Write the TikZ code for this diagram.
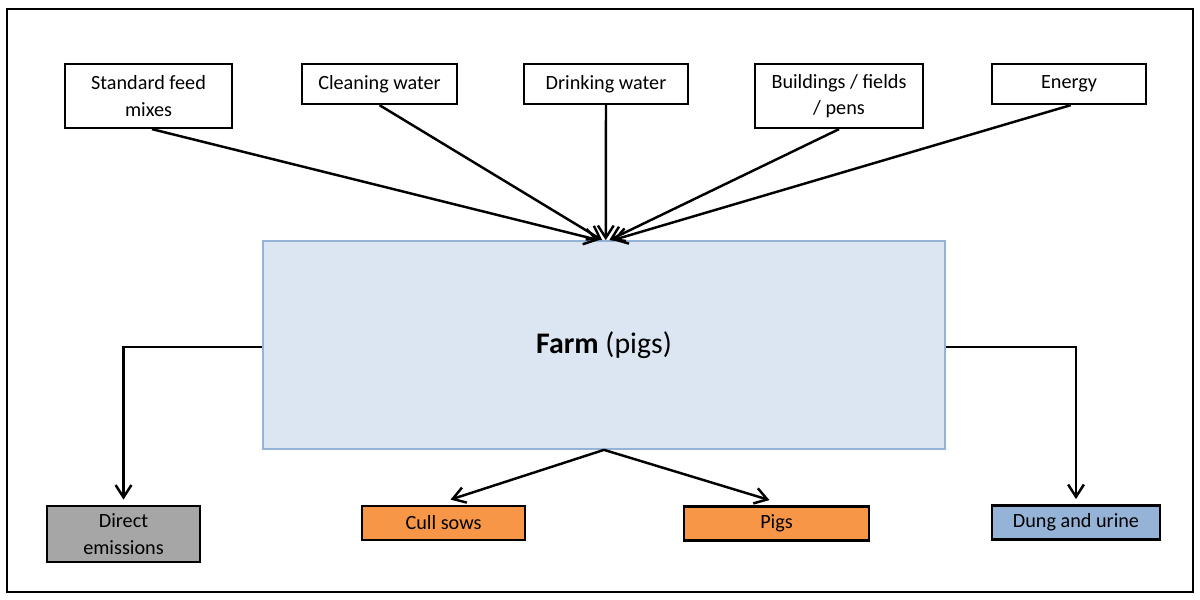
\documentclass[tikz,border=0pt]{standalone}
\usepackage{fontspec}
\setmainfont{Carlito}
\usetikzlibrary{arrows.meta}

\definecolor{farmfill}{HTML}{DCE6F2}
\definecolor{farmline}{HTML}{95B3D7}
\definecolor{outgray}{HTML}{A6A6A6}
\definecolor{outorange}{HTML}{F79646}
\definecolor{outblue}{HTML}{95B3D7}

\begin{document}
\begin{tikzpicture}[x=0.02cm,y=-0.02cm,
    inbox/.style={draw,line width=1.3pt,align=center,inner sep=2pt,font=\fontsize{11.5}{15}\selectfont},
    outbox/.style={inbox,minimum height=0.68cm},
    flow/.style={line width=1.4pt,-{Straight Barb[length=7pt,width=9pt]}}]
    \useasboundingbox (0,0) rectangle (1200,599);
    \draw[line width=1.5pt] (7,9) rectangle (1193,592);
    % inputs
    \node[inbox,minimum width=3.34cm,minimum height=1.28cm] (feed) at (148.5,96) {Standard feed\\mixes};
    \node[inbox,minimum width=3.1cm,minimum height=0.8cm] (clean) at (379.5,84) {Cleaning water};
    \node[inbox,minimum width=3.28cm,minimum height=0.8cm] (drink) at (606,84) {Drinking water};
    \node[inbox,minimum width=3.36cm,minimum height=1.28cm] (build) at (839,96) {Buildings / fields\\/ pens};
    \node[inbox,minimum width=3.08cm,minimum height=0.8cm] (energy) at (1069,84) {Energy};
    % farm
    \node[draw=farmline,fill=farmfill,line width=1pt,minimum width=13.64cm,minimum height=4.16cm,
        font=\fontsize{17}{20}\selectfont] (farm) at (604,345) {\textbf{Farm} (pigs)};
    % outputs
    \node[inbox,fill=outgray,minimum width=3.06cm,minimum height=1.12cm] (direct) at (123.5,534) {Direct\\emissions};
    \node[outbox,fill=outorange,minimum width=3.26cm] (cull) at (443.5,523) {Cull sows};
    \node[outbox,fill=outorange,minimum width=3.7cm] (pigs) at (776.5,523.5) {Pigs};
    \node[outbox,fill=outblue,minimum width=3.36cm] (dung) at (1076,522.5) {Dung and urine};

    \draw[flow] ([xshift=2pt]feed.south) -- ([xshift=-3pt]farm.north);
    \draw[flow] (clean.south) -- ([xshift=-1pt]farm.north);
    \draw[flow] (drink.south) -- ([xshift=1pt]farm.north);
    \draw[flow] (build.south) -- ([xshift=3pt]farm.north);
    \draw[flow] ([xshift=1pt]energy.south) -- ([xshift=5pt]farm.north);

    \draw[flow] ([yshift=-1pt]farm.west) -| ([yshift=3pt]direct.north);
    \draw[flow] ([yshift=-1pt]farm.east) -| ([yshift=3pt]dung.north);
    \draw[flow] (farm.south) -- ([xshift=4pt,yshift=3pt]cull.north);
    \draw[flow] (farm.south) -- ([xshift=-4pt,yshift=3pt]pigs.north);
\end{tikzpicture}
\end{document}
